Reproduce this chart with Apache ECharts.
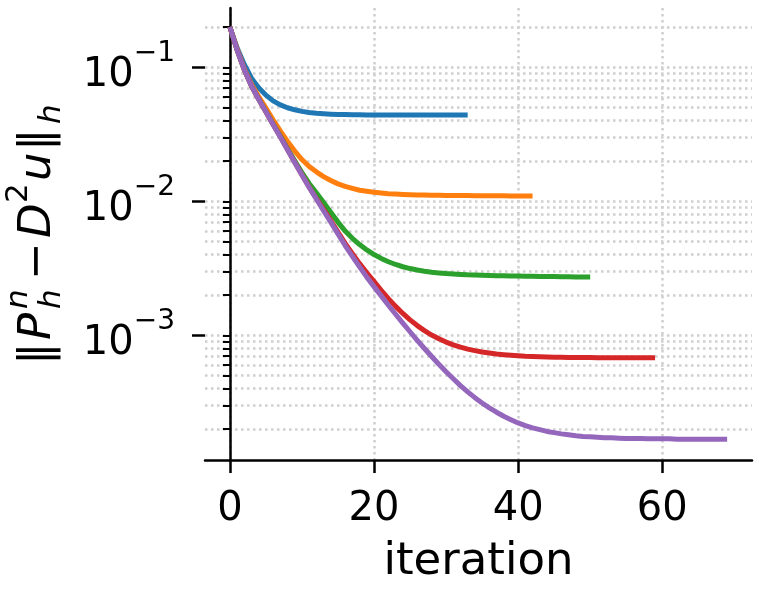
<!DOCTYPE html>
<html>
<head>
<meta charset="utf-8">
<script src="https://cdn.jsdelivr.net/npm/echarts@6/dist/echarts.min.js"></script>
<style>html,body{margin:0;padding:0;background:#fff;}#c{width:760px;height:599px;}</style>
</head>
<body>
<div id="c"></div>
<script>
// ---- data ----
const seriesNames = ['h1', 'h2', 'h3', 'h4', 'h5'];
const colors = ['#1f77b4', '#ff7f0e', '#2ca02c', '#d62728', '#9467bd'];

const blue = [0.2, 0.14, 0.105, 0.083, 0.0705, 0.062, 0.0562, 0.0524, 0.0499, 0.0482,
  0.0469, 0.046, 0.0454, 0.045, 0.0447, 0.0445, 0.0444, 0.0443, 0.0442, 0.0441,
  0.0441, 0.0441, 0.0441, 0.0441, 0.0441, 0.0441, 0.0441, 0.0441, 0.0441, 0.0441,
  0.0441, 0.0441, 0.0441, 0.0441];

const orange = [0.2, 0.137, 0.0975, 0.0748, 0.0606, 0.0497, 0.0405, 0.0335, 0.028, 0.0237,
  0.0205, 0.0182, 0.0166, 0.0153, 0.0143, 0.0135, 0.01295, 0.0125, 0.0121, 0.0119,
  0.0117, 0.01154, 0.01141, 0.01133, 0.01126, 0.01121, 0.01117, 0.01114, 0.01111, 0.01109,
  0.01107, 0.01106, 0.01105, 0.01104, 0.01103, 0.01102, 0.01101, 0.011, 0.01099, 0.01098,
  0.01097, 0.01097, 0.01097];

const green = [0.2, 0.135, 0.096, 0.0726, 0.058, 0.0468, 0.0378, 0.0307, 0.0247, 0.0201,
  0.0164, 0.0136, 0.0116, 0.0098, 0.0083, 0.007, 0.006, 0.0053, 0.00476, 0.00434,
  0.00401, 0.00375, 0.00354, 0.00338, 0.00325, 0.00315, 0.00307, 0.00301, 0.00296, 0.00292,
  0.00289, 0.00287, 0.00285, 0.00283, 0.00282, 0.00281, 0.0028, 0.00279, 0.00278, 0.00277,
  0.00277, 0.00276, 0.00276, 0.00275, 0.00275, 0.00275, 0.00274, 0.00274, 0.00273, 0.00273,
  0.00273];

const red = [0.2, 0.135, 0.096, 0.0725, 0.0578, 0.0465, 0.0375, 0.0303, 0.0244, 0.0196,
  0.0158, 0.0128, 0.0105, 0.0087, 0.0072, 0.0059, 0.00485, 0.00407, 0.00343, 0.00293,
  0.00253, 0.00217, 0.00188, 0.001645, 0.001457, 0.001305, 0.001183, 0.001085, 0.001006, 0.000943,
  0.000891, 0.00085, 0.000817, 0.00079, 0.000769, 0.000751, 0.000738, 0.000726, 0.000717, 0.00071,
  0.000704, 0.000699, 0.000696, 0.000693, 0.00069, 0.000688, 0.000687, 0.000685, 0.000684, 0.000683,
  0.000683, 0.000682, 0.000682, 0.000681, 0.000681, 0.00068, 0.00068, 0.00068, 0.00068, 0.00068];

const purple = [0.2, 0.135, 0.096, 0.0725, 0.0578, 0.0465, 0.0374, 0.0302, 0.0243, 0.0195,
  0.0157, 0.0127, 0.0104, 0.0085, 0.007, 0.00572, 0.00468, 0.00389, 0.00324, 0.00272,
  0.00231, 0.00197, 0.00168, 0.001438, 0.001235, 0.001064, 0.000919, 0.000798, 0.000695, 0.000608,
  0.000535, 0.000474, 0.000422, 0.000379, 0.000343, 0.000313, 0.000288, 0.000267, 0.000249, 0.000235,
  0.000222, 0.000212, 0.000204, 0.000198, 0.000192, 0.000188, 0.000184, 0.000181, 0.000178, 0.000176,
  0.000175, 0.000174, 0.000172, 0.000172, 0.000171, 0.00017, 0.00017, 0.00017, 0.000169, 0.000169,
  0.000169, 0.000169, 0.000168, 0.000168, 0.000168, 0.000168, 0.000168, 0.000168, 0.000168, 0.000168];

const xTicks = [0, 20, 40, 60];
const yMajorTicks = [1e-3, 1e-2, 1e-1];
const yMinorTicks = [2e-4, 3e-4, 4e-4, 5e-4, 6e-4, 7e-4, 8e-4, 9e-4,
  2e-3, 3e-3, 4e-3, 5e-3, 6e-3, 7e-3, 8e-3, 9e-3,
  2e-2, 3e-2, 4e-2, 5e-2, 6e-2, 7e-2, 8e-2, 9e-2, 2e-1];
const xLabel = 'iteration';

// ---- chart ----
const FONT = 'DejaVu Sans';
const allSeries = [blue, orange, green, red, purple];
const gridStyle = { color: '#cfcfcf', width: 2.5, type: [2.5, 3.5] };

const chart = echarts.init(document.getElementById('c'), null, { renderer: 'canvas' });

const yBase = {
  type: 'log', logBase: 10, min: 1.175e-4, max: 0.277, position: 'left', offset: 0
};

// y-axis title pieces (mathtext-like), laid out along the rotated baseline
const fs = 45, ss = 31;
const yTitle = [
  { t: '\u2016', x: 0, y: 0, s: fs, it: false },
  { t: 'P', x: 25, y: 0, s: fs, it: true },
  { t: 'n', x: 56, y: -24, s: ss, it: true },
  { t: 'h', x: 56, y: 9, s: ss, it: true },
  { t: '\u2212', x: 85, y: 0, s: fs, it: false },
  { t: 'D', x: 127, y: 0, s: fs, it: true },
  { t: '2', x: 162, y: -24, s: ss, it: false },
  { t: 'u', x: 184, y: 0, s: fs, it: true },
  { t: '\u2016', x: 214, y: 0, s: fs, it: false },
  { t: 'h', x: 241, y: 9, s: ss, it: true }
];

const option = {
  animation: false,
  backgroundColor: '#ffffff',
  grid: { left: 205, right: 8, top: 8, bottom: 139, containLabel: false, outerBoundsMode: 'none' },
  xAxis: {
    type: 'value', min: -3.45, max: 72.45,
    name: xLabel, nameLocation: 'middle', nameGap: 80,
    nameTextStyle: { fontFamily: FONT, fontSize: 45, color: '#000' },
    axisLine: { show: true, lineStyle: { color: '#000', width: 2.5 } },
    axisTick: { show: true, customValues: xTicks, length: 13, lineStyle: { color: '#000', width: 2.5 } },
    axisLabel: { show: true, customValues: xTicks, margin: 30, fontFamily: FONT, fontSize: 40, color: '#000' },
    splitLine: { show: true, lineStyle: gridStyle }
  },
  yAxis: [
    Object.assign({}, yBase, {
      axisLine: { show: true, lineStyle: { color: '#000', width: 2.5 } },
      axisTick: { show: true, customValues: yMajorTicks.concat(yMinorTicks), length: 7, lineStyle: { color: '#000', width: 2 } },
      axisLabel: {
        show: true, customValues: yMajorTicks, margin: 30,
        formatter: function (v) {
          const e = Math.round(Math.log10(v));
          return '{b|10}{s|\u2212' + (-e) + '}';
        },
        rich: {
          b: { fontFamily: FONT, fontSize: 40, color: '#000', lineHeight: 56, verticalAlign: 'bottom' },
          s: { fontFamily: FONT, fontSize: 28, color: '#000', lineHeight: 28, verticalAlign: 'top' }
        }
      },
      splitLine: { show: true, lineStyle: gridStyle }
    }),
    Object.assign({}, yBase, {
      axisLine: { show: false },
      axisTick: { show: true, customValues: yMajorTicks, length: 13, lineStyle: { color: '#000', width: 2.5 } },
      axisLabel: { show: false },
      splitLine: { show: false }
    })
  ],
  graphic: [{
    type: 'group', x: 53, y: 365, rotation: Math.PI / 2,
    children: yTitle.map(function (p) {
      return {
        type: 'text', x: p.x, y: p.y - 0.33 * p.s,
        style: {
          text: p.t, fontSize: p.s, fontFamily: FONT, fontStyle: p.it ? 'italic' : 'normal',
          fill: '#000', align: 'left', verticalAlign: 'middle'
        }
      };
    })
  }],
  series: allSeries.map(function (arr, k) {
    return {
      name: seriesNames[k], type: 'line', xAxisIndex: 0, yAxisIndex: 0,
      showSymbol: false, symbol: 'none', smooth: false, z: 10 + k,
      lineStyle: { color: colors[k], width: 5, cap: 'butt', join: 'round' },
      data: arr.map(function (v, i) { return [i, v]; })
    };
  })
};
chart.setOption(option);
</script>
</body>
</html>
